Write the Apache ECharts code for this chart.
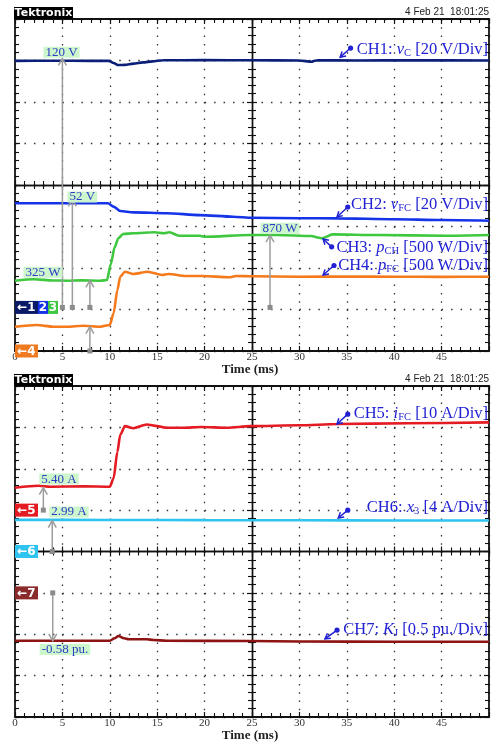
<!DOCTYPE html>
<html><head><meta charset="utf-8">
<script src="https://cdn.jsdelivr.net/npm/echarts@6/dist/echarts.min.js"></script>
<style>html,body{margin:0;padding:0;background:#fff}#c{width:492px;height:743px}</style>
</head><body><div id="c"></div>
<script>
// ---------------- DATA ----------------
// CH1: v_C (V)
const ch1Time = [0, 4, 8, 9.9, 10.4, 10.9, 11.6, 12.5, 13.5, 14.5, 15.6, 20, 25, 30, 31.3, 31.6, 32, 36, 42, 50];
const ch1Volt = [118.8, 118.9, 118.8, 118.8, 117.8, 116.8, 116.9, 117.5, 118.1, 118.6, 119.1, 119.2, 119.1, 119.0, 118.4, 118.9, 119.1, 119.0, 119.1, 119.0];
// CH2: v_FC (V)
const ch2Time = [0, 5, 9.8, 10.4, 11.1, 12.5, 16, 19.5, 23, 25, 30, 34, 40, 45, 50];
const ch2Volt = [50.2, 50.2, 50.2, 48.6, 46.5, 45.8, 45.4, 44.5, 43.7, 43.2, 43.0, 42.9, 42.5, 42.1, 41.8];
// CH3: p_CH (W)
const ch3Time = [0, 2, 4, 5.5, 7, 9, 9.7, 10.1, 10.5, 10.9, 11.4, 12.5, 14.7, 15.7, 16.3, 17.3, 19.5, 20, 24.8, 27.7, 31.2, 32.4, 33.5, 38.3, 45.3, 50];
const ch3Watt = [322, 339, 325, 322, 326, 322, 330, 520, 720, 833, 885, 893, 905, 893, 905, 864, 864, 852, 873, 873, 860, 833, 880, 873, 864, 873];
// CH4: p_FC (W)
const ch4Time = [0, 2.3, 4, 5.5, 7.2, 9, 10, 10.4, 10.8, 11.1, 11.6, 12.5, 14, 15.5, 16.2, 18, 19.8, 22.6, 23.3, 25, 30, 35, 40, 45, 50];
const ch4Watt = [293, 313, 293, 293, 305, 293, 313, 454, 735, 895, 955, 928, 955, 916, 928, 904, 904, 888, 904, 900, 895, 897, 895, 893, 895];
// CH5: i_FC (A)
const ch5Time = [0, 2.5, 3.7, 7.3, 10, 10.4, 10.8, 11.1, 11.6, 12.5, 13.9, 15, 16, 17.8, 19.6, 22.4, 24.8, 30, 34, 41.5, 50];
const ch5Amp  = [5.42, 5.90, 5.66, 5.76, 5.66, 7.69, 14.1, 18.2, 20.3, 19.8, 20.7, 20.3, 19.9, 19.9, 20.1, 19.9, 20.3, 20.5, 20.8, 21.0, 21.2];
// CH6: x_3 (A)
const ch6Time = [0, 10, 20, 30, 40, 50];
const ch6Amp  = [3.06, 3.05, 3.03, 3.02, 3.00, 2.99];
// CH7: K_J (pu.)
const ch7Time = [0, 5, 10, 10.5, 10.9, 11.5, 12, 13.9, 14.6, 16, 24.8, 30, 40, 50];
const ch7Pu   = [-0.578, -0.578, -0.578, -0.549, -0.521, -0.549, -0.561, -0.561, -0.569, -0.578, -0.582, -0.588, -0.590, -0.590];

// channel settings (units/div) and ground reference (divisions from screen centre)
const chPerDiv  = [20, 20, 500, 500, 10, 4, 0.5];
const chGround  = [-2.95, -2.95, -2.95, -4.0, 1.0, 0, -1.0];
const chScreen  = [0, 0, 0, 0, 1, 1, 1];
const chName    = ['CH1: ', 'CH2: ', 'CH3: ', 'CH4: ', 'CH5: ', 'CH6: ', 'CH7: '];
const chSymbol  = ['v', 'v', 'p', 'p', 'i', 'x', 'K'];
const chSub     = ['C', 'FC', 'CH', 'FC', 'FC', '3', 'J'];
const chUnit    = [' [20 V/Div]', ' [20 V/Div]', ' [500 W/Div]', ' [500 W/Div]', ' [10 A/Div]', ' [4 A/Div]', ' [0.5 pu./Div]'];

// cursor readouts
const cursorChannel = [0, 1, 2, 3, 2, 4, 5, 6];
const cursorTime    = [5, 6.05, 7.9, 7.9, 26.9, 2.99, 3.93, 3.98];
const cursorValue   = [120, 52, 325, 293, 870, 5.40, 2.99, -0.58];
const cursorText    = ['120 V', '52 V', '325 W', '', '870 W', '5.40 A', '2.99 A', '-0.58 pu.'];

const timeMax = 50, timeStep = 5;
const divHalf = 4;
const dateText = '4 Feb 21  18:01:25';
const brandText = 'Tektronix';
const axisTitle = 'Time (ms)';

// ---------------- LAYOUT / STYLE ----------------
const chColor = ['#0b1f78', '#1534e8', '#3fc83f', '#f47a1c', '#e41b22', '#2ec4ef', '#8e1414'];
const markerColor = ['#0b1a66', '#1534e8', '#3fc83f', '#f07a20', '#e41b22', '#2ec4ef', '#8b2a2a'];
const SCREENS = [{top: 19, height: 332}, {top: 386, height: 331}];
const LEFT = 15, WIDTH = 474;
// label placement (time, division on screen)
const cursorLabelPos = [[4.9, 3.2], [7.1, -0.29], [2.95, -2.10], null, [27.95, -1.04], [4.64, 1.75], [5.7, 0.955], [5.27, -2.37]];
// channel tag: text centre division, dot (t, div), arrow tip (t, div)
const tagTextDiv = [3.25, -0.48, -1.52, -1.95, 3.32, 1.05, -1.90];
const tagDot = [[35.4, 3.30], [35.1, -0.53], [33.4, -1.49], [33.65, -1.94], [35.1, 3.32], [35.1, 1.0], [33.97, -1.90]];
const tagTip = [[34.3, 3.08], [33.97, -0.77], [32.5, -1.30], [32.5, -2.17], [33.97, 3.08], [34.1, 0.81], [32.7, -2.11]];
// ground marker groups per screen
const markerGroups = [[0, 1, 2], [3], [4], [5], [6]];

const chart = echarts.init(document.getElementById('c'));

const xAxes = [], yAxes = [], series = [];
const mainX = [], divY = [], chY = [];
const blk = '#111';
SCREENS.forEach((s, gi) => {
  const ph = s.height / 40, pw = WIDTH / 50;
  const baseTick = {inside: true, length: 5, lineStyle: {color: blk, width: 1.2}};
  const baseMinor = {show: true, splitNumber: 5, length: 4, lineStyle: {color: blk, width: 1.1}};
  const xBase = {type: 'value', gridIndex: gi, min: 0, max: timeMax, interval: timeStep,
    axisLine: {onZero: false, lineStyle: {color: blk, width: 1.8}},
    axisTick: baseTick, minorTick: baseMinor, splitLine: {show: false}, axisLabel: {show: false}};
  mainX[gi] = xAxes.length;
  xAxes.push(Object.assign({}, xBase, {position: 'bottom',
    splitLine: {show: true, lineStyle: {color: '#333', width: 1.3, type: [1.5, ph - 1.5]}},
    axisLabel: {show: true, margin: 1, fontFamily: 'Liberation Serif', fontSize: 11, color: '#333',
      showMaxLabel: false, formatter: v => (v >= timeMax ? '' : String(v))}}));
  xAxes.push(Object.assign({}, xBase, {position: 'top'}));
  xAxes.push(Object.assign({}, xBase, {position: 'bottom', offset: -s.height / 2, axisLine: {onZero: false, lineStyle: {color: blk, width: 1.4}}}));
  xAxes.push(Object.assign({}, xBase, {position: 'top', offset: -s.height / 2, axisLine: {onZero: false, lineStyle: {color: blk, width: 1.4}}}));

  const yBase = {type: 'value', gridIndex: gi, min: -divHalf, max: divHalf, interval: 1,
    axisLine: {onZero: false, lineStyle: {color: blk, width: 1.8}},
    axisTick: baseTick, minorTick: baseMinor, splitLine: {show: false}, axisLabel: {show: false}};
  divY[gi] = yAxes.length;
  yAxes.push(Object.assign({}, yBase, {position: 'left',
    splitLine: {show: true, lineStyle: {color: '#333', width: 1.3, type: [1.5, pw - 1.5]}}}));
  yAxes.push(Object.assign({}, yBase, {position: 'right'}));
  yAxes.push(Object.assign({}, yBase, {position: 'left', offset: -WIDTH / 2, axisLine: {onZero: false, lineStyle: {color: blk, width: 1.4}}}));
  yAxes.push(Object.assign({}, yBase, {position: 'right', offset: -WIDTH / 2, axisLine: {onZero: false, lineStyle: {color: blk, width: 1.4}}}));

  chScreen.forEach((sc, c) => {
    if (sc !== gi) return;
    chY[c] = yAxes.length;
    yAxes.push({type: 'value', gridIndex: gi, show: false, position: 'left',
      min: (-divHalf - chGround[c]) * chPerDiv[c], max: (divHalf - chGround[c]) * chPerDiv[c],
      axisLine: {onZero: false}, splitLine: {show: false}});
  });
});

const chTimes = [ch1Time, ch2Time, ch3Time, ch4Time, ch5Time, ch6Time, ch7Time];
const chVals = [ch1Volt, ch2Volt, ch3Watt, ch4Watt, ch5Amp, ch6Amp, ch7Pu];
chVals.forEach((vals, c) => {
  series.push({
    type: 'line', xAxisIndex: mainX[chScreen[c]], yAxisIndex: chY[c],
    data: vals.map((v, i) => [chTimes[c][i], v]),
    showSymbol: false, symbol: 'none', smooth: 0.25, smoothMonotone: 'x',
    lineStyle: {color: chColor[c], width: 2.6}, z: 5 + c, silent: true
  });
});

chart.setOption({
  animation: false, backgroundColor: '#ffffff',
  grid: SCREENS.map(s => ({left: LEFT, top: s.top, width: WIDTH, height: s.height, show: false})),
  xAxis: xAxes, yAxis: yAxes, series: series
});

// ---------------- annotations (placed through the axes) ----------------
const G = [];
const pDiv = (gi, t, d) => chart.convertToPixel({xAxisIndex: mainX[gi], yAxisIndex: divY[gi]}, [t, d]);
const pCh = (c, t, v) => chart.convertToPixel({xAxisIndex: mainX[chScreen[c]], yAxisIndex: chY[c]}, [t, v]);

function chevron(tip, dir, len, color, w) {
  const a = Math.PI / 6, bx = -dir[0], by = -dir[1];
  const r = (ang) => [tip[0] + len * (bx * Math.cos(ang) - by * Math.sin(ang)), tip[1] + len * (bx * Math.sin(ang) + by * Math.cos(ang))];
  return {type: 'polyline', z: 100, shape: {points: [r(a), tip, r(-a)]}, style: {stroke: color, lineWidth: w, fill: 'none'}};
}

SCREENS.forEach((s, gi) => {
  const tl = pDiv(gi, 0, divHalf), br = pDiv(gi, timeMax, -divHalf);
  G.push({type: 'rect', z: 100, shape: {x: tl[0] - 1, y: tl[1] - 12, width: 59, height: 12}, style: {fill: '#000'}});
  G.push({type: 'text', z: 101, x: tl[0] + 28.5, y: tl[1] - 6, style: {text: brandText, fill: '#fff', fontFamily: 'DejaVu Sans', fontWeight: 'bold', fontSize: 11, align: 'center', verticalAlign: 'middle'}});
  G.push({type: 'text', z: 101, x: br[0], y: tl[1] - 6.5, style: {text: dateText, fill: '#222', fontFamily: 'Liberation Sans', fontSize: 10, align: 'right', verticalAlign: 'middle'}});
  const mid = pDiv(gi, timeMax / 2, -divHalf);
  G.push({type: 'text', z: 101, x: mid[0] - 2, y: mid[1] + 19, style: {text: axisTitle, fill: '#222', fontFamily: 'Liberation Serif', fontWeight: 'bold', fontSize: 13, align: 'center', verticalAlign: 'middle'}});
});

// cursors
cursorChannel.forEach((c, k) => {
  const g0 = pCh(c, cursorTime[k], 0), g1 = pCh(c, cursorTime[k], cursorValue[k]);
  const col = '#9c9c9c';
  G.push({type: 'line', z: 90, shape: {x1: g0[0], y1: g0[1], x2: g1[0], y2: g1[1]}, style: {stroke: col, lineWidth: 1.5}});
  G.push({type: 'rect', z: 91, shape: {x: g0[0] - 2.5, y: g0[1] - 2.5, width: 5, height: 5}, style: {fill: '#8c8c8c'}});
  const dy = g1[1] < g0[1] ? -1 : 1;
  G.push(chevron(g1, [0, dy], 8, col, 1.5));
  if (cursorText[k]) {
    const lp = pDiv(chScreen[c], cursorLabelPos[k][0], cursorLabelPos[k][1]);
    G.push({type: 'text', z: 102, x: lp[0], y: lp[1], style: {text: cursorText[k], fill: '#2a3cc4', fontFamily: 'Liberation Serif', fontSize: 13, align: 'center', verticalAlign: 'middle', backgroundColor: '#cdf6cd', padding: [0, 2, -1, 2], lineHeight: 12}});
  }
});

// ground markers
markerGroups.forEach(grp => {
  let x = LEFT;
  const gp = pCh(grp[0], 0, 0);
  grp.forEach((c, j) => {
    const label = (j === 0 ? '\u2190' : '') + String(c + 1);
    const w = j === 0 ? 23 : 10;
    G.push({type: 'rect', z: 110, shape: {x: x, y: gp[1] - 6.5, width: w, height: 13}, style: {fill: markerColor[c]}});
    G.push({type: 'text', z: 111, x: x + w / 2, y: gp[1] + 0.5, style: {text: label, fill: '#fff', fontFamily: 'DejaVu Sans', fontWeight: 'bold', fontSize: 12, align: 'center', verticalAlign: 'middle'}});
    x += w;
  });
});

// channel tags
chName.forEach((nm, c) => {
  const gi = chScreen[c];
  const tp = pDiv(gi, timeMax, tagTextDiv[c]);
  const col = '#2222d4';
  G.push({type: 'text', z: 105, x: tp[0] - 1, y: tp[1], style: {
    text: '{n|' + nm + '}{i|' + chSymbol[c] + '}{s|' + chSub[c] + '}{n|' + chUnit[c] + '}',
    align: 'right', verticalAlign: 'middle',
    rich: {
      n: {fontFamily: 'Liberation Serif', fontSize: 16.5, fill: col, color: col, lineHeight: 18},
      i: {fontFamily: 'Liberation Serif', fontStyle: 'italic', fontSize: 16.5, fill: col, color: col, lineHeight: 18},
      s: {fontFamily: 'Liberation Serif', fontSize: 10.5, fill: col, color: col, lineHeight: 10, verticalAlign: 'bottom'}
    }}});
  const d = pDiv(gi, tagDot[c][0], tagDot[c][1]), t = pDiv(gi, tagTip[c][0], tagTip[c][1]);
  const L = Math.hypot(t[0] - d[0], t[1] - d[1]);
  G.push({type: 'line', z: 104, shape: {x1: d[0], y1: d[1], x2: t[0], y2: t[1]}, style: {stroke: col, lineWidth: 1.5}});
  G.push({type: 'circle', z: 104, shape: {cx: d[0], cy: d[1], r: 2.6}, style: {fill: col}});
  G.push(chevron(t, [(t[0] - d[0]) / L, (t[1] - d[1]) / L], 6, col, 1.5));
});

chart.setOption({graphic: {elements: G}});
</script>
</body></html>
